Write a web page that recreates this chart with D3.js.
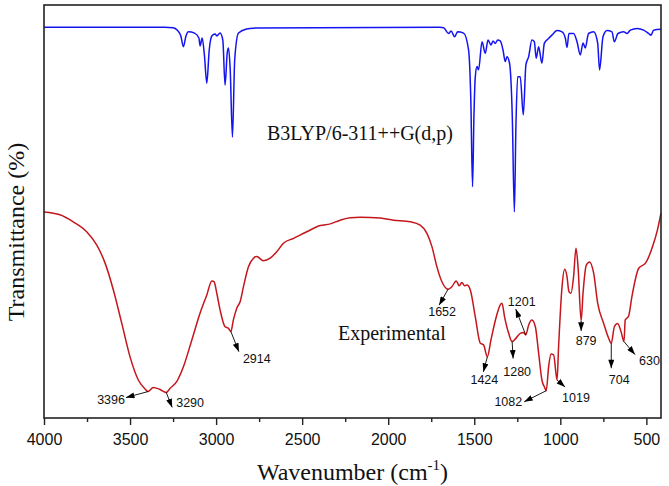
<!DOCTYPE html>
<html>
<head>
<meta charset="utf-8">
<script src="https://cdn.jsdelivr.net/npm/d3@7"></script>
<style>
  body { margin: 0; background: #fff; }
  svg { display: block; }
</style>
</head>
<body>
<div id="chart"></div>
<script>
/* Calculated spectrum, B3LYP/6-311++G(d,p) */
var calcWn = [4000, 3300, 3250, 3225, 3205, 3190, 3175, 3161, 3125, 3100, 3093, 3081, 3068, 3054, 3040,
  3025, 3006, 2996, 2977, 2961, 2948, 2935, 2928, 2918, 2905, 2892, 2870, 2822, 2785, 1700,
  1678, 1649, 1635, 1614, 1597, 1562, 1533, 1520, 1510, 1502, 1494, 1484, 1475, 1455, 1436,
  1420, 1403, 1391, 1378, 1364, 1349, 1333, 1320, 1310, 1295, 1279, 1267, 1258, 1248, 1233,
  1215, 1200, 1184, 1165, 1151, 1140, 1126, 1107, 1093, 1068, 1049, 1020, 990, 971, 961,
  950, 923, 903, 884, 868, 855, 836, 806, 783, 772, 752, 729, 700, 686, 665,
  632, 612, 593, 554, 516, 487, 473, 458, 415];
var calcT = [94.6, 94.6, 94.5, 93.9, 92.5, 89.9, 92.5, 93.5, 93.2, 92.0, 90.1, 92.0, 87.9, 81.1, 89.1,
  92.5, 93.0, 92.5, 93.2, 91.5, 80.6, 88.6, 89.6, 84.3, 68.0, 86.7, 93.2, 94.2, 94.4, 94.6,
  94.5, 93.1, 93.7, 92.3, 93.5, 93.2, 89.1, 77.0, 56.0, 72.9, 82.6, 85.1, 84.3, 91.1, 88.3,
  91.5, 90.3, 91.3, 90.7, 91.5, 91.3, 89.1, 86.3, 87.5, 85.9, 72.9, 49.9, 70.5, 82.6, 82.6,
  73.4, 85.5, 87.5, 91.5, 91.1, 87.1, 89.9, 85.9, 90.7, 91.9, 92.7, 93.8, 93.5, 92.0, 89.7,
  93.1, 93.1, 91.1, 87.9, 90.8, 89.6, 93.1, 93.5, 90.8, 84.3, 92.3, 93.8, 93.5, 91.1, 93.1,
  93.5, 93.1, 93.9, 94.3, 93.9, 93.1, 92.7, 93.9, 94.1];

/* Experimental spectrum */
var expWn = [4000, 3907, 3830, 3752, 3694, 3645, 3597, 3548, 3500, 3452, 3410, 3396, 3365, 3326, 3290,
  3267, 3229, 3190, 3141, 3093, 3054, 3025, 3012, 2996, 2977, 2948, 2928, 2914, 2900, 2880,
  2860, 2841, 2812, 2783, 2764, 2725, 2686, 2647, 2609, 2550, 2473, 2395, 2337, 2279, 2221,
  2163, 2047, 1969, 1872, 1814, 1775, 1746, 1717, 1688, 1652, 1630, 1605, 1587, 1572, 1556,
  1543, 1523, 1494, 1465, 1446, 1424, 1403, 1372, 1349, 1339, 1324, 1300, 1280, 1262, 1233,
  1213, 1201, 1184, 1165, 1145, 1126, 1107, 1091, 1082, 1068, 1054, 1039, 1019, 1010, 990,
  975, 961, 950, 938, 923, 909, 897, 879, 868, 849, 830, 806, 783, 748, 719,
  704, 686, 667, 647, 630, 623, 603, 584, 545, 503, 464, 436, 415];
var expT = [49.9, 49.2, 47.5, 45.1, 41.9, 37.5, 31.0, 22.9, 14.8, 9.2, 6.9, 6.4, 7.4, 6.9, 6.2,
  7.2, 8.8, 12.4, 18.9, 25.4, 29.8, 33.2, 33.0, 30.2, 26.2, 22.1, 21.7, 20.9, 23.7, 26.6,
  28.2, 31.8, 36.6, 38.7, 39.1, 38.1, 38.7, 40.3, 42.3, 43.5, 45.1, 46.6, 47.0, 47.9, 48.5,
  48.6, 48.4, 47.9, 47.5, 46.7, 44.7, 41.5, 36.6, 33.0, 31.2, 31.8, 33.2, 32.0, 32.8, 32.0,
  32.2, 31.0, 24.5, 18.1, 17.7, 14.8, 18.9, 24.5, 27.4, 27.8, 24.5, 20.5, 18.5, 19.1, 20.5,
  20.7, 20.1, 22.5, 23.7, 22.1, 15.7, 9.2, 7.4, 6.6, 12.4, 15.5, 15.3, 9.2, 17.3, 31.8,
  36.0, 34.2, 30.6, 30.2, 34.2, 41.1, 36.6, 23.5, 30.2, 37.0, 37.8, 35.0, 27.8, 22.9, 19.3,
  18.1, 22.1, 22.9, 20.9, 18.5, 23.7, 24.7, 29.4, 36.2, 37.6, 41.5, 45.5, 49.6];

/* Marked bands of the experimental spectrum */
var peakWn = [3396, 3290, 2914, 1652, 1424, 1280, 1201, 1082, 1019, 879, 704, 630];
var peakLabels = ["3396", "3290", "2914", "1652", "1424", "1280", "1201", "1082", "1019", "879", "704", "630"];

var xTicks = [4000, 3500, 3000, 2500, 2000, 1500, 1000, 500];
var xMinorTicks = [3750, 3250, 2750, 2250, 1750, 1250, 750];

/* Arrow layout for each marked band: tip offset and label offset from the curve point */
var arrowLayout = [
  { tip: [-22, 6], lab: [-23, 12], anchor: "end" },
  { tip: [6, 15], lab: [10, 15], anchor: "start" },
  { tip: [8, 20], lab: [12, 31], anchor: "start" },
  { tip: [-9, 16], lab: [-6, 27], anchor: "middle" },
  { tip: [-4, 15], lab: [-3, 27], anchor: "middle" },
  { tip: [1, 17], lab: [5, 34], anchor: "middle" },
  { tip: [-10, -26], lab: [-4, -29], anchor: "middle" },
  { tip: [-22, 11], lab: [-24, 15], anchor: "end" },
  { tip: [8, 7], lab: [5, 22], anchor: "start" },
  { tip: [0, 10], lab: [5, 24], anchor: "middle" },
  { tip: [0, 25], lab: [8, 41], anchor: "middle" },
  { tip: [11, 13], lab: [15, 23], anchor: "start" }
];

var W = 669, H = 486;
var plot = { left: 44, right: 661, top: 5, bottom: 418 };

var svg = d3.select("#chart").append("svg")
  .attr("width", W)
  .attr("height", H);

/* x & y scales */
var x = d3.scaleLinear().domain([4000, 415]).range([plot.left, plot.right]);
var y = d3.scaleLinear().domain([0, 100]).range([plot.bottom, plot.top]);

var line = d3.line()
  .x(function (d) { return x(d[0]); })
  .y(function (d) { return y(d[1]); })
  .curve(d3.curveMonotoneX);

var calcData = calcWn.map(function (w, i) { return [w, calcT[i]]; });
var expData = expWn.map(function (w, i) { return [w, expT[i]]; });

/* spectra */
svg.append("path")
  .datum(calcData)
  .attr("d", line)
  .style("fill", "none")
  .style("stroke", "#1414f0")
  .style("stroke-width", 1.5);

svg.append("path")
  .datum(expData)
  .attr("d", line)
  .style("fill", "none")
  .style("stroke", "#c4161c")
  .style("stroke-width", 1.5);

/* frame */
svg.append("rect")
  .attr("x", plot.left)
  .attr("y", plot.top)
  .attr("width", plot.right - plot.left)
  .attr("height", plot.bottom - plot.top)
  .style("fill", "none")
  .style("stroke", "#222")
  .style("stroke-width", 1.6);

/* x axis */
var xAxis = svg.append("g")
  .attr("transform", "translate(0," + plot.bottom + ")")
  .call(d3.axisBottom(x).tickValues(xTicks).tickFormat(d3.format("d"))
    .tickSize(7).tickSizeOuter(0).tickPadding(9));
xAxis.select(".domain").remove();
xAxis.selectAll("line").style("stroke", "#222").style("stroke-width", 1.4);
xAxis.selectAll("text")
  .style("font-family", "'Liberation Sans', Arial, sans-serif")
  .style("font-size", "16px")
  .style("fill", "#111");

var xMinor = svg.append("g")
  .attr("transform", "translate(0," + plot.bottom + ")")
  .call(d3.axisBottom(x).tickValues(xMinorTicks).tickSize(4).tickSizeOuter(0).tickFormat(""));
xMinor.select(".domain").remove();
xMinor.selectAll("line").style("stroke", "#222").style("stroke-width", 1.4);

/* axis titles */
var xTitle = svg.append("text")
  .attr("x", (plot.left + plot.right) / 2)
  .attr("y", 480)
  .style("font-family", "'Liberation Serif', 'Times New Roman', serif")
  .style("font-size", "24px")
  .style("text-anchor", "middle")
  .style("fill", "#111");
xTitle.append("tspan").text("Wavenumber (cm");
xTitle.append("tspan").attr("dy", -10).style("font-size", "15px").text("-1");
xTitle.append("tspan").attr("dy", 10).text(")");

svg.append("text")
  .attr("transform", "translate(24,232) rotate(-90)")
  .style("font-family", "'Liberation Serif', 'Times New Roman', serif")
  .style("font-size", "24px")
  .style("text-anchor", "middle")
  .style("fill", "#111")
  .text("Transmittance (%)");

/* spectrum labels */
svg.append("text")
  .attr("x", 267)
  .attr("y", 140)
  .style("font-family", "'Liberation Serif', 'Times New Roman', serif")
  .style("font-size", "20px")
  .style("fill", "#111")
  .text("B3LYP/6-311++G(d,p)");

svg.append("text")
  .attr("x", 338)
  .attr("y", 340)
  .style("font-family", "'Liberation Serif', 'Times New Roman', serif")
  .style("font-size", "20px")
  .style("fill", "#111")
  .text("Experimental");

/* arrowhead */
svg.append("defs").append("marker")
  .attr("id", "head")
  .attr("markerUnits", "userSpaceOnUse")
  .attr("viewBox", "0 0 10 7")
  .attr("refX", 10)
  .attr("refY", 3.5)
  .attr("markerWidth", 9)
  .attr("markerHeight", 6)
  .attr("orient", "auto")
  .append("path")
  .attr("d", "M0,0 L10,3.5 L0,7 Z")
  .style("fill", "#000");

/* value of the experimental curve at a wavenumber */
function expAt(w) {
  for (var i = 1; i < expData.length; i++) {
    var a = expData[i - 1], b = expData[i];
    if (w <= a[0] && w >= b[0]) {
      return a[1] + (b[1] - a[1]) * (a[0] - w) / (a[0] - b[0]);
    }
  }
  return expData[expData.length - 1][1];
}

/* band arrows and labels */
var marks = svg.selectAll(".band")
  .data(peakWn)
  .enter()
  .append("g")
  .attr("class", "band")
  .attr("transform", function (w) {
    return "translate(" + x(w) + "," + y(expAt(w)) + ")";
  });

marks.append("line")
  .attr("x1", 0)
  .attr("y1", 0)
  .attr("x2", function (w, i) { return arrowLayout[i].tip[0]; })
  .attr("y2", function (w, i) { return arrowLayout[i].tip[1]; })
  .style("stroke", "#000")
  .style("stroke-width", 0.9)
  .attr("marker-end", "url(#head)");

marks.append("text")
  .attr("x", function (w, i) { return arrowLayout[i].lab[0]; })
  .attr("y", function (w, i) { return arrowLayout[i].lab[1]; })
  .style("text-anchor", function (w, i) { return arrowLayout[i].anchor; })
  .style("font-family", "'Liberation Sans', Arial, sans-serif")
  .style("font-size", "12.5px")
  .style("fill", "#111")
  .text(function (w, i) { return peakLabels[i]; });
</script>
</body>
</html>
